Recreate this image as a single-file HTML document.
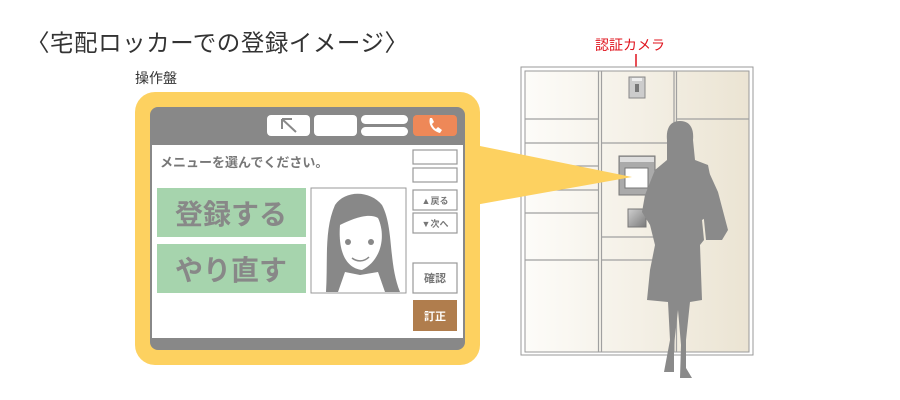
<!DOCTYPE html>
<html><head><meta charset="utf-8"><style>
html,body{margin:0;padding:0;background:#fff;width:900px;height:400px;overflow:hidden}
svg{display:block}
text{font-family:"Liberation Sans","Noto Sans CJK JP",sans-serif}
</style></head><body>
<svg width="900" height="400" viewBox="0 0 900 400" xmlns="http://www.w3.org/2000/svg">
<defs>
<linearGradient id="lk" x1="0" x2="1" y1="0" y2="0"><stop offset="0" stop-color="#fdfcf9"/><stop offset="1" stop-color="#ebe4d3"/></linearGradient>
<linearGradient id="sq" x1="0" x2="1" y1="0" y2="1"><stop offset="0" stop-color="#d0d0d0"/><stop offset="1" stop-color="#7a7a7a"/></linearGradient>
</defs>
<text x="26" y="51" font-size="23.5" fill="#333" textLength="382" lengthAdjust="spacing">〈宅配ロッカーでの登録イメージ〉</text>
<text x="135" y="83" font-size="14" fill="#333">操作盤</text>
<text x="595" y="50" font-size="14" fill="#e0141e">認証カメラ</text>
<line x1="636" y1="54" x2="636" y2="77" stroke="#e0141e" stroke-width="1.5"/>

<rect x="521" y="67" width="232" height="288" fill="#fff" stroke="#999" stroke-width="1"/>
<rect x="525" y="71" width="224" height="281" fill="url(#lk)" stroke="#999" stroke-width="1"/>
<g stroke="#a0a0a0" stroke-width="1.2" fill="none">
<line x1="598.5" y1="71" x2="598.5" y2="352"/><line x1="601.5" y1="71" x2="601.5" y2="352"/>
<line x1="674" y1="71" x2="674" y2="352"/><line x1="676.5" y1="71" x2="676.5" y2="352"/>
<line x1="525" y1="119" x2="598" y2="119"/><line x1="525" y1="143" x2="598" y2="143"/>
<line x1="525" y1="166" x2="598" y2="166"/><line x1="525" y1="190" x2="598" y2="190"/>
<line x1="525" y1="213" x2="598" y2="213"/><line x1="525" y1="260" x2="598" y2="260"/>
<line x1="602" y1="143" x2="674" y2="143"/><line x1="602" y1="237" x2="674" y2="237"/>
<line x1="602" y1="260" x2="674" y2="260"/>
<line x1="677" y1="119" x2="749" y2="119"/>
</g>
<rect x="629" y="77" width="16" height="21" fill="#ccc" stroke="#888"/>
<rect x="632" y="78" width="10" height="3" fill="#eee"/>
<rect x="635" y="84" width="4" height="8" fill="#777"/>
<rect x="619" y="156" width="36" height="39" fill="#aaa" stroke="#777"/>
<rect x="620" y="157" width="34" height="5" fill="#ddd"/>
<rect x="625" y="168" width="23" height="20" fill="#fff" stroke="#777"/>
<rect x="628" y="209" width="18" height="18" fill="url(#sq)" stroke="#777"/>

<polygon points="475,145 475,205 632,177" fill="#fdd160"/>

<g fill="#8a8a8a">
<path d="M680,121 C691,121 694,130 693,140 L695,160 L708,165 L712,185 L710,215 L702,220 L704,240 L700,245 L702,300 L690,302 L686,340 L686,368 L692,378 L680,378 L681,345 L678,310 L674,345 L674,372 L664,372 L670,340 L668,302 L647,300 L650,270 L655,245 L650,225 L642,212 L645,195 L655,170 L667,160 L667,140 C666,130 669,121 680,121Z"/>
<path d="M708,170 L718,192 L728,230 L722,240 L706,240 L703,210 Z"/>
</g>

<rect x="135" y="92" width="345" height="273" rx="20" fill="#fdd160"/>
<rect x="150" y="107" width="315" height="243" rx="8" fill="#888"/>
<rect x="152" y="145" width="311" height="193" fill="#fff"/>
<rect x="267" y="115" width="43" height="21" rx="4" fill="#fff"/>
<path d="M282,119 L282,129 M282,119 L292,119 M282,119 L296,132" stroke="#888" stroke-width="2" fill="none"/>
<rect x="314" y="115" width="43" height="21" rx="4" fill="#fff"/>
<rect x="361" y="115" width="47" height="9" rx="4.5" fill="#fff"/>
<rect x="361" y="127" width="47" height="9" rx="4.5" fill="#fff"/>
<rect x="413" y="115" width="44" height="21" rx="4" fill="#ee8858"/>
<path d="M430,118 C428,124 432,131 440,133 L442,130 L438,127 L436,129 C434,128 433,126 432,124 L434,122 L432,118Z" fill="#fff"/>
<text x="160" y="167" font-size="13" font-weight="bold" fill="#777">メニューを選んでください。</text>
<rect x="157" y="188" width="149" height="49" fill="#a6d4ad"/>
<rect x="157" y="244" width="149" height="49" fill="#a6d4ad"/>
<text x="231" y="224" font-size="28" font-weight="bold" fill="#888" text-anchor="middle">登録する</text>
<text x="231" y="280" font-size="28" font-weight="bold" fill="#888" text-anchor="middle">やり直す</text>
<rect x="311" y="188" width="95" height="105" fill="#fff" stroke="#999"/>
<g>
<path d="M326,292 C328,260 324,230 335,205 C345,190 370,190 382,205 C394,228 388,262 400,292 Z" fill="#888"/>
<path d="M340,225 C350,220 368,212 378,218 C386,235 382,260 362,270 C345,268 338,250 340,225Z" fill="#fff"/>
<path d="M345,272 L360,275 L378,272 L385,292 L338,292Z" fill="#fff"/>
<circle cx="348" cy="242" r="3" fill="#888"/><circle cx="371" cy="242" r="3" fill="#888"/>
<path d="M352,258 C357,262 364,262 369,257" stroke="#888" stroke-width="1.5" fill="none"/>
</g>
<g fill="#fff" stroke="#999" stroke-width="1.2">
<rect x="413" y="150" width="44" height="14"/><rect x="413" y="168" width="44" height="14"/>
<rect x="413" y="190" width="44" height="20"/><rect x="413" y="213" width="44" height="20"/>
<rect x="413" y="263" width="44" height="30"/>
</g>
<text x="435" y="204" font-size="9" font-weight="bold" fill="#777" text-anchor="middle">▲戻る</text>
<text x="435" y="227" font-size="9" font-weight="bold" fill="#777" text-anchor="middle">▼次へ</text>
<text x="435" y="282" font-size="11" font-weight="bold" fill="#777" text-anchor="middle">確認</text>
<rect x="413" y="300" width="44" height="31" fill="#b07d4d"/>
<text x="435" y="320" font-size="11" font-weight="bold" fill="#fff" text-anchor="middle">訂正</text>
</svg>
</body></html>
